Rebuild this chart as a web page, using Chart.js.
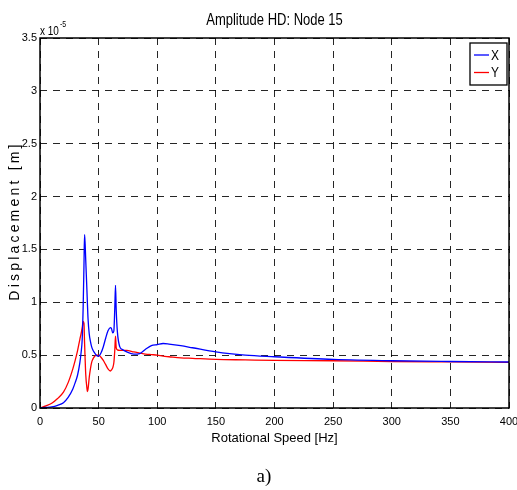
<!DOCTYPE html>
<html lang="en">
<head>
  <meta charset="UTF-8" />
  <title>Amplitude HD: Node 15</title>
  <script src="https://cdn.jsdelivr.net/npm/chart.js"></script>
  <style>
    * { margin: 0; padding: 0; box-sizing: border-box; }
    body { background: #fff; width: 517px; height: 490px; overflow: hidden; }
    .wrap { width: 517px; height: 490px; }
  </style>
</head>
<body>
  <div class="wrap"><canvas id="ampChart" width="517" height="490"></canvas></div>

  <script>
    // rotational speed [Hz]
    const speedHz = [0, 5, 10, 15, 20, 24, 28, 30, 32, 34, 35, 36, 36.8, 37.5, 38,
      38.5, 39, 40, 40.5, 41, 42, 43, 44, 45, 46, 48, 50, 52, 54, 56, 58, 60, 61, 62, 63,
      63.8, 64.4, 65, 66, 68, 70, 74, 80, 85, 90, 95, 100, 105, 110, 120, 130, 150, 175,
      200, 250, 300, 350, 400];

    // displacement in units of 1e-5 m
    const dispX = [0, 0.005, 0.01, 0.025, 0.05, 0.1, 0.18, 0.24, 0.31, 0.43, 0.52, 0.65,
      0.95, 1.35, 1.64, 1.55, 1.4, 1.12, 0.97, 0.84, 0.7, 0.63, 0.58, 0.55, 0.53, 0.5, 0.49,
      0.52, 0.58, 0.66, 0.73, 0.76, 0.75, 0.71, 0.73, 0.95, 1.16, 0.93, 0.72, 0.58, 0.555,
      0.53, 0.51, 0.515, 0.555, 0.59, 0.6, 0.61, 0.605, 0.59, 0.57, 0.53, 0.5, 0.485, 0.46,
      0.447, 0.44, 0.435];
    const dispY = [0, 0.02, 0.045, 0.09, 0.15, 0.24, 0.37, 0.45, 0.54, 0.65, 0.7, 0.76,
      0.82, 0.8, 0.62, 0.46, 0.32, 0.19, 0.155, 0.18, 0.29, 0.37, 0.43, 0.46, 0.48, 0.5, 0.5,
      0.48, 0.45, 0.41, 0.37, 0.35, 0.36, 0.38, 0.43, 0.55, 0.68, 0.57, 0.55, 0.545, 0.545,
      0.545, 0.53, 0.52, 0.51, 0.505, 0.5, 0.49, 0.485, 0.475, 0.47, 0.46, 0.455, 0.45,
      0.447, 0.44, 0.436, 0.432];

    const seriesNames = ['X', 'Y'];
    const speedTicks = [0, 50, 100, 150, 200, 250, 300, 350, 400];
    const dispTicks = [0, 0.5, 1, 1.5, 2, 2.5, 3, 3.5];

    const FONT = '"Liberation Sans", Arial, Helvetica, sans-serif';

    function toPoints(ys) {
      return speedHz.map((x, i) => ({ x: x, y: ys[i] }));
    }

    // text stretched a bit vertically, like the matlab export
    function tallText(ctx, text, x, y, size) {
      ctx.save();
      ctx.translate(x, y);
      ctx.scale(1, 1.2);
      ctx.font = size + 'px ' + FONT;
      ctx.fillText(text, 0, 0);
      ctx.restore();
    }

    // frame, title, exponent, legend, y label and caption
    const decorPlugin = {
      id: 'decor',
      afterDraw(chart) {
        const { ctx, chartArea: a } = chart;
        ctx.save();

        ctx.strokeStyle = '#000';
        ctx.lineWidth = 1.5;
        ctx.setLineDash([]);
        ctx.strokeRect(a.left, a.top, a.right - a.left, a.bottom - a.top);

        ctx.fillStyle = '#000';
        ctx.textAlign = 'center';
        ctx.textBaseline = 'alphabetic';
        tallText(ctx, 'Amplitude HD: Node 15', (a.left + a.right) / 2, 25, 13);

        ctx.textAlign = 'left';
        tallText(ctx, 'x 10', a.left, 35, 10);
        ctx.font = '10px ' + FONT;
        const w = ctx.measureText('x 10').width;
        tallText(ctx, '-5', a.left + w + 1, 27, 7);

        // legend box
        const bx = a.right - 39, by = a.top + 5, bw = 37, bh = 42;
        ctx.fillStyle = '#fff';
        ctx.fillRect(bx, by, bw, bh);
        ctx.strokeStyle = '#000';
        ctx.lineWidth = 1.3;
        ctx.strokeRect(bx, by, bw, bh);
        chart.data.datasets.forEach((ds, i) => {
          const ly = by + 12 + i * 17.5;
          ctx.strokeStyle = ds.borderColor;
          ctx.lineWidth = 1.3;
          ctx.beginPath();
          ctx.moveTo(bx + 4, ly);
          ctx.lineTo(bx + 19, ly);
          ctx.stroke();
          ctx.fillStyle = '#000';
          ctx.textAlign = 'left';
          tallText(ctx, ds.label, bx + 21, ly + 4.5, 12);
        });

        // y axis title with wide letter spacing
        ctx.save();
        ctx.translate(15, (a.top + a.bottom) / 2);
        ctx.rotate(-Math.PI / 2);
        ctx.letterSpacing = '3.2px';
        ctx.font = '14px ' + FONT;
        ctx.textAlign = 'center';
        ctx.textBaseline = 'middle';
        ctx.fillStyle = '#000';
        ctx.fillText('Displacement [m]', 2, 0);
        ctx.restore();

        ctx.fillStyle = '#000';
        ctx.textAlign = 'center';
        ctx.textBaseline = 'alphabetic';
        ctx.font = '19px "Liberation Serif", "Times New Roman", serif';
        ctx.fillText('a)', 264, 482);

        ctx.restore();
      }
    };

    const gridOpts = { color: 'rgba(0,0,0,0.85)', lineWidth: 1, drawTicks: false };
    const borderOpts = { display: false, dash: [7, 6] };

    new Chart(document.getElementById('ampChart'), {
      type: 'line',
      data: {
        datasets: [
          { label: seriesNames[0], data: toPoints(dispX), borderColor: '#0000ff' },
          { label: seriesNames[1], data: toPoints(dispY), borderColor: '#ff0000' }
        ]
      },
      options: {
        responsive: false,
        animation: false,
        devicePixelRatio: 1,
        layout: { padding: { left: 0, right: 8, top: 38, bottom: 40 } },
        elements: {
          point: { radius: 0 },
          line: { borderWidth: 1.3, cubicInterpolationMode: 'monotone', fill: false }
        },
        plugins: {
          legend: { display: false },
          title: { display: false },
          tooltip: { enabled: false }
        },
        scales: {
          x: {
            type: 'linear',
            min: 0, max: 400,
            grid: gridOpts,
            border: borderOpts,
            afterBuildTicks: s => { s.ticks = speedTicks.map(v => ({ value: v })); },
            afterFit: s => { s.height = 42; s.paddingLeft = 0; s.paddingRight = 0; },
            ticks: {
              color: '#000', padding: 7,
              font: { family: FONT, size: 11 },
              maxRotation: 0,
              callback: v => String(v)
            },
            title: {
              display: true,
              text: 'Rotational Speed [Hz]',
              color: '#000',
              font: { family: FONT, size: 13 },
              padding: { top: 0, bottom: 4 }
            }
          },
          y: {
            type: 'linear',
            min: 0, max: 3.5,
            grid: gridOpts,
            border: borderOpts,
            afterBuildTicks: s => { s.ticks = dispTicks.map(v => ({ value: v })); },
            afterFit: s => { s.width = 40; s.paddingTop = 0; s.paddingBottom = 0; },
            ticks: {
              color: '#000', padding: 3,
              font: { family: FONT, size: 11 },
              callback: v => String(v)
            }
          }
        }
      },
      plugins: [decorPlugin]
    });
  </script>
</body>
</html>
